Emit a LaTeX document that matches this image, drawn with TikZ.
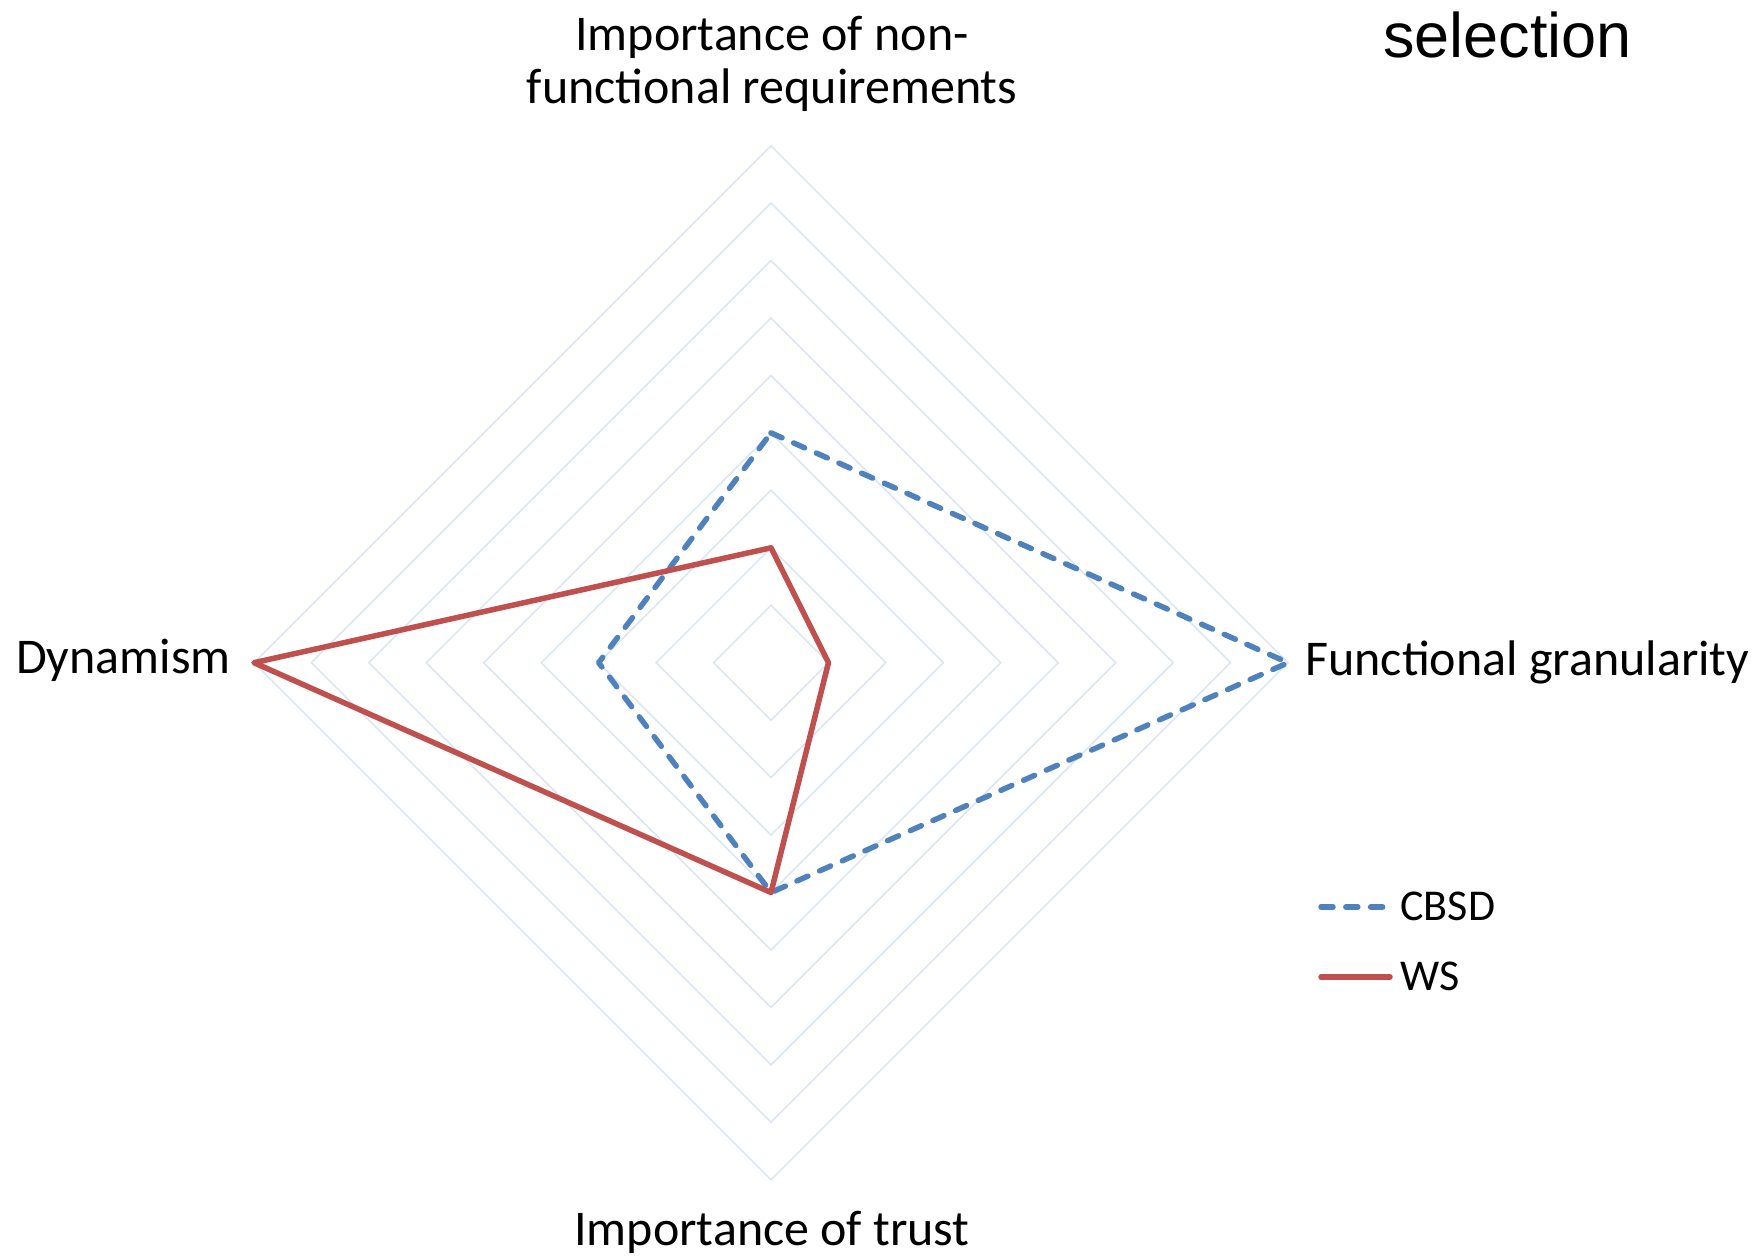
\documentclass[tikz,border=0pt]{standalone}
\usepackage{fontspec}
\setmainfont{Carlito}
\newfontfamily\arialfont{Liberation Sans}
\definecolor{seriesblue}{HTML}{4F81BD}
\definecolor{seriesred}{HTML}{C0504D}
\definecolor{gridblue}{HTML}{DCE6F2}
\begin{document}
\begin{tikzpicture}[x=0.5pt,y=-0.5pt,
  gridline/.style={draw=gridblue,line width=0.8pt,line join=miter},
  cbsd/.style={draw=seriesblue,line width=2.75pt,dash pattern=on 6pt off 6.4pt,line cap=round,line join=round},
  ws/.style={draw=seriesred,line width=2.75pt,line join=round,line cap=round},
  axislabel/.style={inner sep=0pt,font=\fontsize{25}{30}\selectfont},
  legendlabel/.style={inner sep=0pt,anchor=base west,font=\fontsize{22}{26}\selectfont}]
\useasboundingbox (0,0) rectangle (1760,1256);
% radar centre and unit step (one ring)
\def\cx{771}\def\cy{662.7}\def\u{57.45}
% concentric grid rings, values 1..9
\foreach \k in {1,...,9}{
  \draw[gridline] (\cx,\cy-\k*\u) -- (\cx+\k*\u,\cy) -- (\cx,\cy+\k*\u) -- (\cx-\k*\u,\cy) -- cycle;
}
% CBSD series: top 4, right 9, bottom 4, left 3
\coordinate (c1) at (\cx,\cy-4*\u);
\coordinate (c2) at (\cx+9*\u,\cy);
\coordinate (c3) at (\cx,\cy+4*\u);
\coordinate (c4) at (\cx-3*\u,\cy);
\draw[cbsd] (c1) -- (c2) -- (c3) -- (c4) -- cycle;
% WS series: top 2, right 1, bottom 4, left 9
\coordinate (w1) at (\cx,\cy-2*\u);
\coordinate (w2) at (\cx+1*\u,\cy);
\coordinate (w3) at (\cx,\cy+4*\u);
\coordinate (w4) at (\cx-9*\u,\cy);
\draw[ws] (w1) -- (w2) -- (w3) -- (w4) -- cycle;
% axis labels
\node[axislabel,anchor=base] (topa) at (772,51) {Importance of non-};
\node[axislabel,anchor=base] (topb) at (772,104) {functional requirements};
\node[axislabel,anchor=base east] (left) at (231,673) {Dynamism};
\node[axislabel,anchor=base west] (right) at (1305,675) {Functional granularity};
\node[axislabel,anchor=base] (bottom) at (772,1245) {Importance of trust};
% heading fragment
\node[inner sep=0pt,anchor=base west,font=\arialfont\fontsize{31.5}{36}\selectfont] (sel) at (1383,58) {selection};
% legend
\coordinate (lb1) at (1321,907);
\coordinate (lb2) at (1385,907);
\draw[cbsd] (lb1) -- (lb2);
\node[legendlabel] (lcbsd) at (1400,920) {CBSD};
\coordinate (lr1) at (1321,977);
\coordinate (lr2) at (1390,977);
\draw[ws] (lr1) -- (lr2);
\node[legendlabel] (lws) at (1400,990) {WS};
\end{tikzpicture}
\end{document}
